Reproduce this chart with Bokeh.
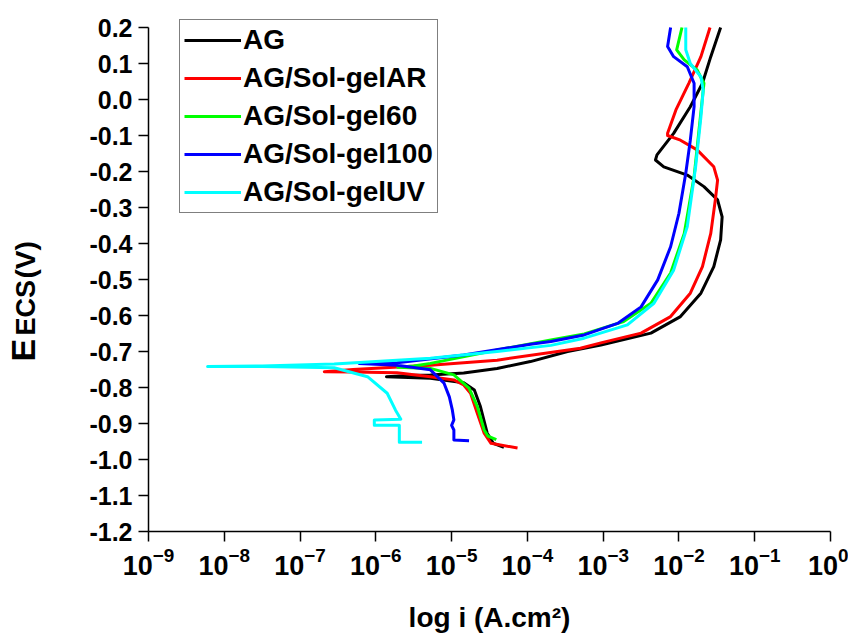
import numpy as np
from bokeh.plotting import figure
from bokeh.layouts import row
from bokeh.core.properties import value
from bokeh.models import FixedTicker, LogTickFormatter, PrintfTickFormatter, Legend, LegendItem, Range1d
from bokeh.embed import file_html
from bokeh.resources import INLINE

# ---------------- data ----------------
x_ticks = [1e-9, 1e-8, 1e-7, 1e-6, 1e-5, 1e-4, 1e-3, 1e-2, 1e-1, 1e0]
y_ticks = [0.2, 0.1, 0.0, -0.1, -0.2, -0.3, -0.4, -0.5, -0.6, -0.7, -0.8, -0.9, -1.0, -1.1, -1.2]

series_names = ["AG", "AG/Sol-gelAR", "AG/Sol-gel60", "AG/Sol-gel100", "AG/Sol-gelUV"]
series_colors = ["#000000", "#ff0000", "#00ff00", "#0000ff", "#00ffff"]

# log10 of current density (A/cm2) and potential (V vs ECS), along the scan
ag_log_i = [-4.31, -4.45, -4.53, -4.62, -4.70, -4.84, -5.28, -5.86, -5.50, -5.28, -4.84, -4.40,
            -3.96, -3.47, -3.03, -2.37, -1.98, -1.71, -1.54, -1.45, -1.43, -1.49, -1.67, -1.89,
            -2.20, -2.31, -2.29, -2.07, -1.85, -1.69, -1.58, -1.45]
ag_e = [-0.966, -0.955, -0.927, -0.853, -0.807, -0.787, -0.774, -0.770, -0.766, -0.765, -0.760, -0.747,
        -0.728, -0.700, -0.682, -0.649, -0.603, -0.538, -0.464, -0.390, -0.326, -0.279, -0.242, -0.210,
        -0.187, -0.168, -0.154, -0.094, -0.020, 0.045, 0.119, 0.200]

ar_log_i = [-4.13, -4.48, -4.57, -4.66, -4.75, -4.84, -4.97, -5.28, -5.72, -6.30, -6.68, -6.30,
            -5.28, -4.40, -3.30, -3.03, -2.50, -2.11, -1.85, -1.69, -1.58, -1.52, -1.49, -1.54,
            -1.76, -1.98, -2.15, -2.15, -2.04, -1.87, -1.71, -1.59]
ar_e = [-0.968, -0.955, -0.927, -0.872, -0.816, -0.793, -0.779, -0.770, -0.759, -0.757, -0.756, -0.750,
        -0.738, -0.724, -0.691, -0.676, -0.649, -0.603, -0.538, -0.464, -0.372, -0.279, -0.224, -0.187,
        -0.140, -0.113, -0.100, -0.094, -0.029, 0.045, 0.119, 0.200]

g60_log_i = [-4.41, -4.52, -4.57, -4.66, -4.77, -4.97, -5.28, -5.71, -5.50, -5.28, -4.40, -3.69,
             -3.25, -2.73, -2.37, -2.11, -1.93, -1.80, -1.74, -1.67, -1.76, -1.93, -2.03, -1.96]
g60_e = [-0.945, -0.935, -0.918, -0.853, -0.802, -0.765, -0.747, -0.744, -0.740, -0.733, -0.696, -0.668,
         -0.651, -0.617, -0.566, -0.482, -0.372, -0.214, -0.094, 0.045, 0.082, 0.110, 0.138, 0.200]

g100_log_i = [-4.77, -4.97, -4.97, -5.00, -4.97, -4.99, -5.03, -5.10, -5.28, -5.72, -6.22, -5.72,
              -4.84, -3.96, -3.69, -3.25, -2.81, -2.50, -2.28, -2.11, -2.00, -1.91, -1.85, -1.80,
              -1.80, -1.89, -2.07, -2.15, -2.11]
g100_e = [-0.948, -0.946, -0.918, -0.905, -0.890, -0.863, -0.826, -0.788, -0.751, -0.738, -0.733, -0.731,
          -0.710, -0.680, -0.672, -0.654, -0.622, -0.576, -0.501, -0.409, -0.316, -0.205, -0.113, -0.020,
          0.045, 0.091, 0.119, 0.147, 0.200]

uv_log_i = [-5.39, -5.69, -5.69, -6.02, -6.02, -5.67, -5.74, -5.85, -6.11, -6.55, -7.50, -8.22,
            -7.50, -6.55, -5.28, -4.40, -3.69, -3.25, -2.68, -2.33, -2.07, -1.89, -1.78, -1.71,
            -1.68, -1.71, -1.85, -1.91, -1.91]
uv_e = [-0.952, -0.952, -0.905, -0.905, -0.890, -0.888, -0.863, -0.816, -0.770, -0.745, -0.742, -0.742,
        -0.740, -0.735, -0.719, -0.700, -0.683, -0.663, -0.626, -0.566, -0.474, -0.353, -0.187, -0.048,
        0.026, 0.063, 0.100, 0.138, 0.200]

series_log_i = [ag_log_i, ar_log_i, g60_log_i, g100_log_i, uv_log_i]
series_e = [ag_e, ar_e, g60_e, g100_e, uv_e]

# y-axis title pieces: E with the ECS index, then (V)
ytitle_parts = ["E", "ECS", "(V)"]

FONT = "Liberation Sans"
AXIS_MIN, AXIS_MAX = -1.2, 0.2            # extent of the drawn y axis

W, H = 848, 640
TITLE_W = 70                              # strip holding the rotated y title
PX_PER_V = 360.0                          # vertical scale of the frame
B_LEFT, B_RIGHT, B_TOP, B_BOTTOM = 148, 18, 12, 109
AXIS_TOP_PX = 27                          # canvas row of the 0.2 V end of the axis
FRAME_H = H - B_TOP - B_BOTTOM
Y_MIN = AXIS_MIN
Y_MAX = AXIS_MAX + (AXIS_TOP_PX - B_TOP) / PX_PER_V   # a little head room for the legend
Y_MIN = Y_MAX - FRAME_H / PX_PER_V

def e_at(py):                             # potential value shown at canvas pixel row py
    return Y_MAX - (py - B_TOP) / PX_PER_V

# ---------- left strip with the rotated y-axis title ----------
t = figure(width=TITLE_W, height=H, x_range=Range1d(0, TITLE_W), y_range=Range1d(Y_MIN, Y_MAX),
           output_backend="svg", toolbar_location=None,
           x_axis_location=None, y_axis_location=None,
           min_border_left=0, min_border_right=0, min_border_top=B_TOP, min_border_bottom=B_BOTTOM)
t.outline_line_color = None
t.xgrid.visible = False
t.ygrid.visible = False
t.background_fill_color = "white"
t.border_fill_color = "white"
title_sizes = [34, 27, 28]
title_start = [361, 335, 278]             # pixel row where each piece starts (text runs upward)
BASELINE_X = 35                           # common baseline of the rotated pieces
for txt, size, start in zip(ytitle_parts, title_sizes, title_start):
    t.text(x=[BASELINE_X - 0.36 * size], y=[e_at(start)], text=[txt], angle=np.pi / 2,
           text_font=value(FONT), text_font_style="bold", text_font_size=f"{size}px",
           text_align="left", text_baseline="middle", text_color="black")

# ---------- main chart ----------
p = figure(width=W - TITLE_W, height=H, x_axis_type="log",
           x_range=(1e-9, 1e0), y_range=Range1d(Y_MIN, Y_MAX),
           output_backend="svg", toolbar_location=None,
           min_border_left=B_LEFT - TITLE_W, min_border_right=B_RIGHT,
           min_border_top=B_TOP, min_border_bottom=B_BOTTOM)

p.outline_line_color = None
p.xgrid.visible = False
p.ygrid.visible = False
p.background_fill_color = "white"
p.border_fill_color = "white"

items = []
for name, color, li, ev in zip(series_names, series_colors, series_log_i, series_e):
    r = p.line(10.0 ** np.array(li), ev, line_color=color, line_width=3, line_join="round")
    items.append(LegendItem(label=name, renderers=[r]))

for ax in (p.xaxis[0], p.yaxis[0]):
    ax.axis_line_color = "black"
    ax.axis_line_width = 1.5
    ax.major_tick_line_color = "black"
    ax.major_tick_line_width = 1.5
    ax.major_tick_out = 10
    ax.major_tick_in = 0
    ax.minor_tick_line_color = None
    ax.major_label_text_font = FONT
    ax.major_label_text_font_style = "bold"
    ax.major_label_text_color = "black"

p.xaxis.ticker = FixedTicker(ticks=x_ticks, minor_ticks=[])
p.xaxis.formatter = LogTickFormatter()
p.xaxis.major_label_text_font_size = "27px"
p.xaxis.major_label_standoff = 5
p.xaxis.axis_label = "log i (A.cm²)"
p.xaxis.axis_label_text_font = FONT
p.xaxis.axis_label_text_font_style = "bold"
p.xaxis.axis_label_text_font_size = "28px"
p.xaxis.axis_label_text_color = "black"
p.xaxis.axis_label_standoff = 24

p.yaxis.ticker = FixedTicker(ticks=y_ticks, minor_ticks=[])
p.yaxis.bounds = (AXIS_MIN, AXIS_MAX)
p.yaxis.formatter = PrintfTickFormatter(format="%.1f")
p.yaxis.major_label_text_font_size = "25px"
p.yaxis.major_label_standoff = 6

legend = Legend(items=items, location=(31, 318))
legend.label_text_font = FONT
legend.label_text_font_style = "bold"
legend.label_text_font_size = "28px"
legend.label_text_color = "black"
legend.glyph_width = 57
legend.glyph_height = 32
legend.label_height = 32
legend.label_standoff = 2
legend.spacing = 6
legend.padding = 4
legend.margin = 0
legend.border_line_color = "black"
legend.border_line_width = 1
legend.background_fill_color = "white"
legend.background_fill_alpha = 1.0
p.add_layout(legend)

layout = row(t, p, spacing=0)
open("out.html", "w").write(file_html(layout, INLINE))
